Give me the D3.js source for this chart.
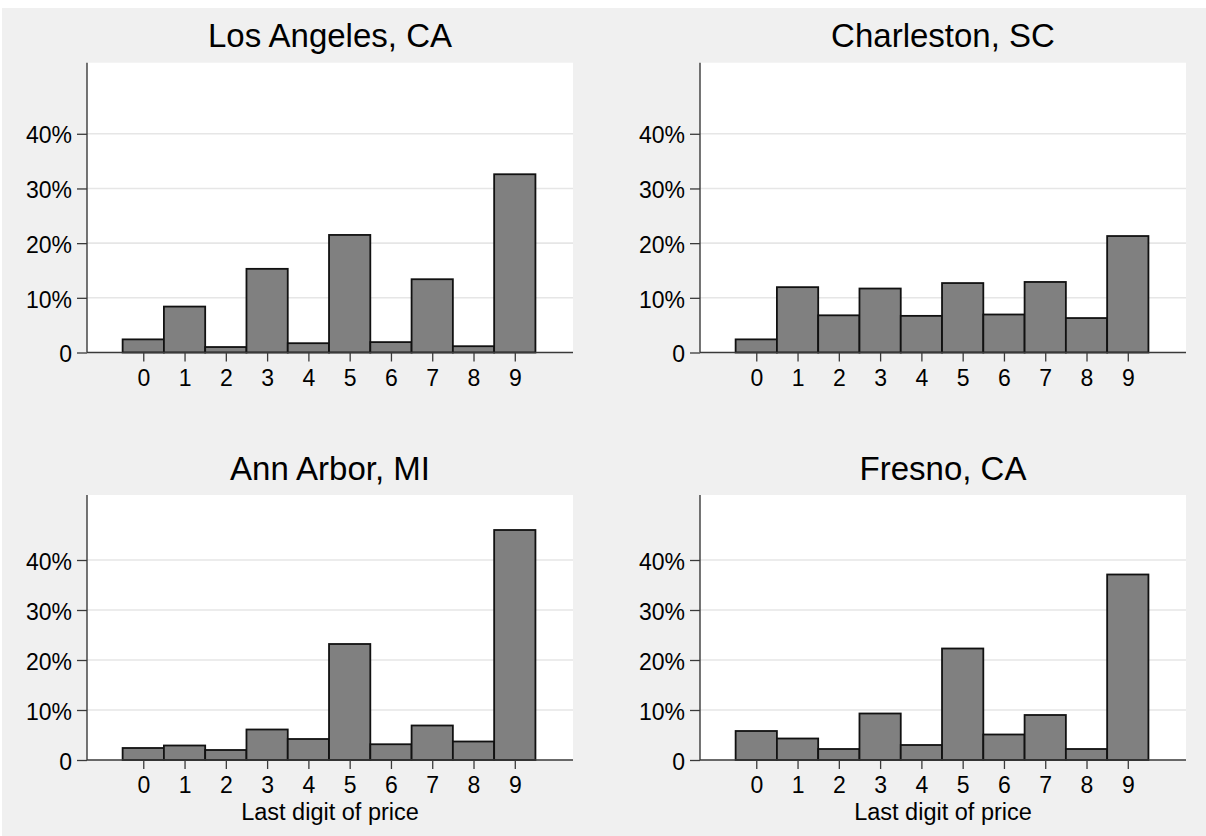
<!DOCTYPE html>
<html>
<head>
<meta charset="utf-8">
<script src="https://cdn.jsdelivr.net/npm/d3@7"></script>
<style>
  html, body { margin: 0; padding: 0; background: #ffffff; }
  svg { display: block; }
  text { font-family: "Liberation Sans", Arial, Helvetica, sans-serif; fill: #000; }
</style>
</head>
<body>
<svg id="chart" width="1206" height="836"></svg>
<script>
// ---- data ----
const digits = [0, 1, 2, 3, 4, 5, 6, 7, 8, 9];
const cities = ["Los Angeles, CA", "Charleston, SC", "Ann Arbor, MI", "Fresno, CA"];
const losAngeles = [2.4, 8.4, 1.0, 15.3, 1.7, 21.5, 1.9, 13.4, 1.15, 32.6];
const charleston = [2.4, 11.95, 6.8, 11.7, 6.7, 12.7, 6.95, 12.9, 6.3, 21.3];
const annArbor = [2.4, 2.9, 2.0, 6.1, 4.2, 23.2, 3.15, 6.9, 3.7, 46.0];
const fresno = [5.8, 4.3, 2.2, 9.3, 3.0, 22.3, 5.1, 9.0, 2.2, 37.1];
const yTicks = [0, 10, 20, 30, 40];
const yTickLabels = ["0", "10%", "20%", "30%", "40%"];
const xTitle = "Last digit of price";

const seriesList = [losAngeles, charleston, annArbor, fresno];

// ---- layout ----
const svg = d3.select("#chart");
svg.append("rect").attr("x", 0).attr("y", 0).attr("width", 1206).attr("height", 836).attr("fill", "#ffffff");
svg.append("rect").attr("x", 2).attr("y", 8).attr("width", 1204).attr("height", 828).attr("fill", "#f0f0f0");

const cols = [{ left: 87, right: 573 }, { left: 700, right: 1186 }];
const rows = [
  { top: 62.7, zero: 352.5, xtitle: false },
  { top: 495, zero: 760, xtitle: true }
];

seriesList.forEach((vals, i) => {
  const c = cols[i % 2], r = rows[Math.floor(i / 2)];
  const g = svg.append("g");

  const x = d3.scaleLinear().domain([-1.363, 10.41]).range([c.left, c.right]);
  const y = d3.scaleLinear().domain([0, 53]).range([r.zero, r.top]);

  // plot area
  g.append("rect")
    .attr("x", c.left).attr("y", r.top)
    .attr("width", c.right - c.left).attr("height", r.zero - r.top)
    .attr("fill", "#ffffff");

  // gridlines
  g.selectAll("line.grid").data(yTicks.filter(t => t > 0)).enter().append("line")
    .attr("class", "grid")
    .attr("x1", c.left).attr("x2", c.right)
    .attr("y1", d => y(d)).attr("y2", d => y(d))
    .attr("stroke", "#e6e6e6").attr("stroke-width", 1.6);

  // bars
  g.selectAll("rect.bar").data(digits).enter().append("rect")
    .attr("class", "bar")
    .attr("x", d => x(d - 0.5))
    .attr("width", d => x(d + 0.5) - x(d - 0.5))
    .attr("y", d => y(vals[d]))
    .attr("height", d => y(0) - y(vals[d]))
    .attr("fill", "#808080")
    .attr("stroke", "#111111")
    .attr("stroke-width", 1.8);

  // y axis
  const yAxis = d3.axisLeft(y)
    .tickValues(yTicks)
    .tickFormat((d, k) => yTickLabels[k])
    .tickSize(10).tickSizeOuter(0).tickPadding(5);
  const ya = g.append("g").attr("transform", `translate(${c.left},0)`).call(yAxis);
  ya.select(".domain").remove();
  ya.selectAll(".tick line").attr("stroke", "#3a3a3a").attr("stroke-width", 1.3);
  ya.selectAll(".tick text")
    .attr("font-size", 23)
    .attr("dy", "0.4em")
    .style("font-family", "'Liberation Sans', Arial, sans-serif")
    .attr("fill", "#000");
  g.append("line")
    .attr("x1", c.left).attr("x2", c.left)
    .attr("y1", r.top).attr("y2", r.zero)
    .attr("stroke", "#3a3a3a").attr("stroke-width", 1.4);

  // x axis
  const xAxis = d3.axisBottom(x)
    .tickValues(digits)
    .tickFormat(d3.format("d"))
    .tickSize(9).tickSizeOuter(0).tickPadding(8);
  const xa = g.append("g").attr("transform", `translate(0,${r.zero})`).call(xAxis);
  xa.select(".domain").remove();
  xa.selectAll(".tick line").attr("stroke", "#3a3a3a").attr("stroke-width", 1.3);
  xa.selectAll(".tick text")
    .attr("font-size", 23)
    .style("font-family", "'Liberation Sans', Arial, sans-serif")
    .attr("fill", "#000");
  g.append("line")
    .attr("x1", c.left).attr("x2", c.right)
    .attr("y1", r.zero).attr("y2", r.zero)
    .attr("stroke", "#3a3a3a").attr("stroke-width", 1.4);

  // title
  g.append("text")
    .attr("x", (c.left + c.right) / 2)
    .attr("y", r.top - 15.5)
    .attr("text-anchor", "middle")
    .attr("font-size", 33)
    .text(cities[i]);

  if (r.xtitle) {
    g.append("text")
      .attr("x", (c.left + c.right) / 2)
      .attr("y", r.zero + 60)
      .attr("text-anchor", "middle")
      .attr("font-size", 23.5)
      .text(xTitle);
  }
});
</script>
</body>
</html>
